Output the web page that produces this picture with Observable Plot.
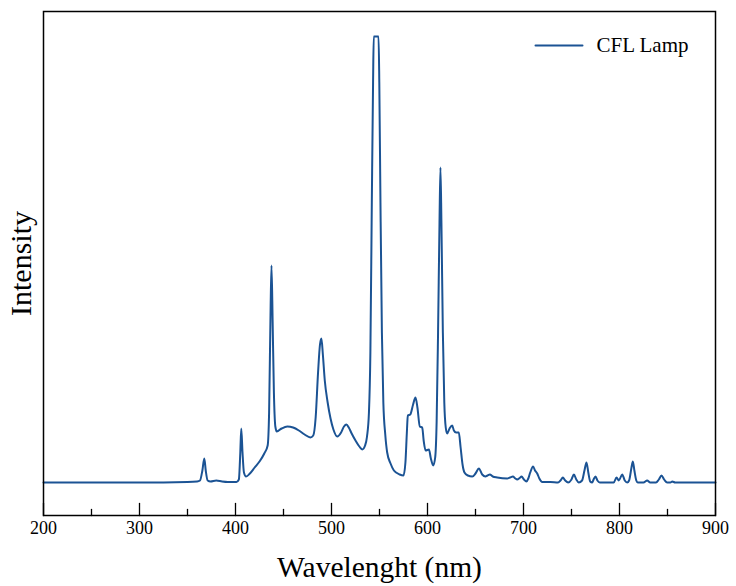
<!DOCTYPE html>
<html>
<head>
<meta charset="utf-8">
<script src="https://cdn.jsdelivr.net/npm/d3@7"></script>
<script src="https://cdn.jsdelivr.net/npm/@observablehq/plot@0.6"></script>
<style>
  html, body { margin: 0; padding: 0; background: #fff; }
</style>
</head>
<body>
<div id="chart"></div>
<script>
// Wavelength (nm) samples
const wavelengths = [
  200,300,350,360,363,365.5,367.5,369,371,374,380,386,392,401,403.5,405,406,407.3,408.8,411,
  415,420,425,430,433.5,435,436.5,437.5,438.7,440,441.5,443,448,454,460,466,472,478,481,483.5,
  486,488,489.5,491,493,496,499,502,506,510,513,515.6,518,521,525,529,532,535,537,539,
  540.5,542,543.3,544,549,549.8,551,552.5,554,556,558,561.5,565,571,575,577,578.5,579.5,582,585,
  587.5,589.5,592,594.5,596,598,601.5,603.5,606,608,609.5,611,612.5,613.5,614.5,616,617.5,619,620.5,623,
  625.7,627.5,629.8,632.6,634.5,636.5,638.5,642,646.6,650,653.5,657,660.4,662.5,665,668,672.6,683,686,689,
  691.5,693.4,696,698,700.5,703,705,707,710,712,714.3,716.5,719.5,728,736,738.5,741,743.5,746.5,750,
  752.5,755,757.6,761,763.5,765.6,767.5,769.5,771.5,773,775,777,779.5,794,796.9,799.3,802.8,805.5,808,810,
  812.5,813.9,815.5,817.5,819,825,828.8,832,838,841,843.75,846.5,849.7,853,855,858,900
];
// Intensity (arbitrary units, baseline = 0)
const intensities = [
  0,0,0.5,1,2,12,24,12,2,1,2,1,0.5,0.5,3,30,54,30,10,6,
  9,15,21,29,37,70,170,217,160,90,56,51,54,56,55,52,48,45,47,65,
  110,138,144,128,102,80,64,53,46,50,56,58,55,49,42,36,33,37,46,70,
  130,280,400,446,446,400,280,150,80,48,30,19,12,8,7,20,50,67,68,78,
  85,75,56,55,42,32,33,24,17,25,60,150,260,315,260,150,80,55,49,54,
  57,52,50,50,35,18,10,7,6,9,14,8,6,7,8,6,5,4,5,6,
  4,3,4.5,6,3,1,4,10,16,12,9,4,0.5,0.5,0,2,5,2,0,3,
  8,3,0,2,12,20,10,1,0,3,6,2,0,0,5,2,8,2,0,2,
  15,21,12,2,0,0,2,0,0,3,7,3,0,0,1,0,0
];
const seriesName = "CFL Lamp";
const majorTicks = [200,300,400,500,600,700,800,900];
const minorTicks = [250,350,450,550,650,750,850];
const xLabel = "Wavelenght (nm)";
const yLabel = "Intensity";

const data = wavelengths.map((w, i) => ({w, v: intensities[i]}));
const lineColor = "#1b5394";
const plainLine = {draw(context, l) { context.moveTo(0, 0); context.lineTo(0, -l); }};

const chart = Plot.plot({
  width: 736,
  height: 586,
  marginLeft: 43,
  marginRight: 21,
  marginTop: 11,
  marginBottom: 71,
  style: {fontFamily: "'Liberation Serif', 'Times New Roman', serif", background: "#fff", color: "#000"},
  x: {domain: [200, 900]},
  y: {domain: [-33, 471], axis: null},
  marks: [
    Plot.line(data, {x: "w", y: "v", stroke: lineColor, strokeWidth: 2, curve: "monotone-x"}),
    Plot.frame({stroke: "#000", strokeWidth: 1.5}),
    Plot.vector(majorTicks, {x: d => d, frameAnchor: "bottom", length: 12, anchor: "start", rotate: 0, shape: plainLine, stroke: "#000", strokeWidth: 1.3}),
    Plot.vector(minorTicks, {x: d => d, frameAnchor: "bottom", length: 6, anchor: "start", rotate: 0, shape: plainLine, stroke: "#000", strokeWidth: 1.3}),
    Plot.axisX({ticks: majorTicks, tickSize: 0, tickPadding: 6, fontSize: 18, label: null, tickFormat: d => String(d)}),
    Plot.text([xLabel], {frameAnchor: "bottom", dy: 61, fontSize: 29.5, fill: "#000"}),
    Plot.text([yLabel], {frameAnchor: "left", dx: -22, rotate: -90, textAnchor: "middle", lineAnchor: "middle", fontSize: 30, fill: "#000"}),
    Plot.vector([seriesName], {frameAnchor: "top-right", dx: -180, dy: 34, length: 47, rotate: 90, anchor: "start", shape: plainLine, stroke: lineColor, strokeWidth: 2}),
    Plot.text([seriesName], {frameAnchor: "top-right", dx: -119, dy: 34, textAnchor: "start", lineAnchor: "middle", fontSize: 21, fill: "#000"})
  ]
});
document.getElementById("chart").appendChild(chart);
</script>
</body>
</html>
